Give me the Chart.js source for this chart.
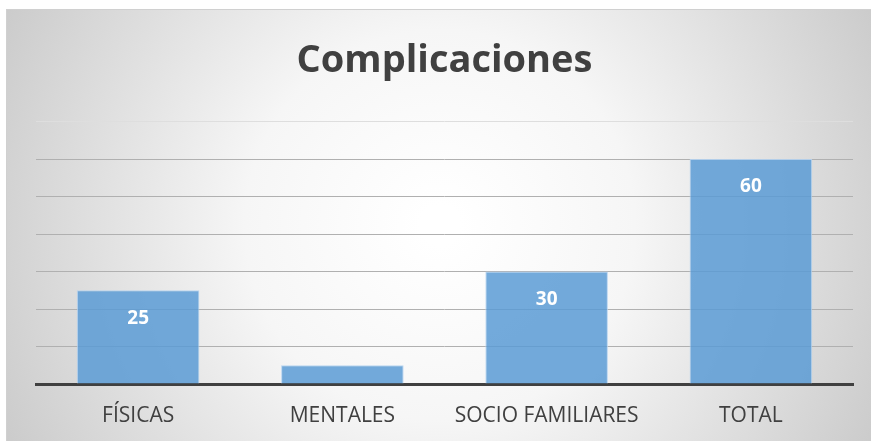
<!DOCTYPE html>
<html>
<head>
<meta charset="utf-8">
<script src="https://cdn.jsdelivr.net/npm/chart.js@4/dist/chart.umd.min.js"></script>
<style>
  html, body { margin: 0; padding: 0; background: #ffffff; }
  #wrap { width: 871px; height: 441px; }
</style>
</head>
<body>
<div id="wrap"><canvas id="chart"></canvas></div>
<script>
const categories = ['FÍSICAS', 'MENTALES', 'SOCIO FAMILIARES', 'TOTAL'];
const values = [25, 5, 30, 60];
const chartTitle = 'Complicaciones';

// background: radial gradient like the office chart area
const bgPlugin = {
  id: 'bg',
  beforeDraw(chart) {
    const ctx = chart.ctx;
    const g = ctx.createRadialGradient(440, 225, 20, 440, 225, 520);
    g.addColorStop(0, '#ffffff');
    g.addColorStop(0.35, '#f6f6f6');
    g.addColorStop(1, '#c6c6c6');
    ctx.save();
    ctx.fillStyle = '#ffffff';
    ctx.fillRect(0, 0, chart.width, chart.height);
    ctx.fillStyle = g;
    ctx.fillRect(6, 9, chart.width - 6, chart.height - 9);
    ctx.strokeStyle = '#d0d0d0';
    ctx.lineWidth = 1;
    ctx.strokeRect(6.5, 9.5, chart.width, chart.height);
    ctx.restore();
  }
};

// white value labels inside the bars
const valueLabels = {
  id: 'valueLabels',
  afterDatasetsDraw(chart) {
    const ctx = chart.ctx;
    const meta = chart.getDatasetMeta(0);
    ctx.save();
    ctx.fillStyle = '#ffffff';
    ctx.font = 'bold 19px "Open Sans"';
    ctx.textAlign = 'center';
    ctx.textBaseline = 'middle';
    meta.data.forEach((bar, i) => {
      if (bar.base - bar.y > 35) {
        ctx.fillText(String(values[i]), bar.x, bar.y + 28);
      }
    });
    ctx.restore();
  }
};

new Chart(document.getElementById('chart'), {
  type: 'bar',
  data: {
    labels: categories,
    datasets: [{
      data: values,
      backgroundColor: 'rgba(91,155,213,0.85)',
      borderColor: 'rgba(180,210,240,0.9)',
      borderWidth: 1,
      categoryPercentage: 0.6,
      barPercentage: 1
    }]
  },
  options: {
    responsive: true,
    maintainAspectRatio: false,
    animation: false,
    layout: { padding: { top: 9, left: 36, right: 18, bottom: 0 } },
    plugins: {
      legend: { display: false },
      tooltip: { enabled: false },
      title: {
        display: true,
        text: chartTitle,
        color: '#404040',
        font: { family: 'Open Sans', size: 38, weight: 'bold', lineHeight: 1.2 },
        padding: { top: 29, bottom: 38 }
      }
    },
    scales: {
      x: {
        grid: { display: false },
        border: { color: '#404040', width: 3 },
        ticks: {
          color: '#404040',
          padding: 14,
          font: { family: 'Open Sans', size: 21, lineHeight: 1 }
        }
      },
      y: {
        min: 0,
        max: 70,
        ticks: { display: false, stepSize: 10 },
        border: { display: false },
        grid: {
          drawTicks: false,
          color: ctx => ctx.tick && ctx.tick.value === 70 ? '#dedede' : (ctx.tick && ctx.tick.value === 0 ? 'rgba(0,0,0,0)' : '#b0b0b0'),
          lineWidth: 1
        }
      }
    }
  },
  plugins: [bgPlugin, valueLabels]
});
</script>
</body>
</html>
